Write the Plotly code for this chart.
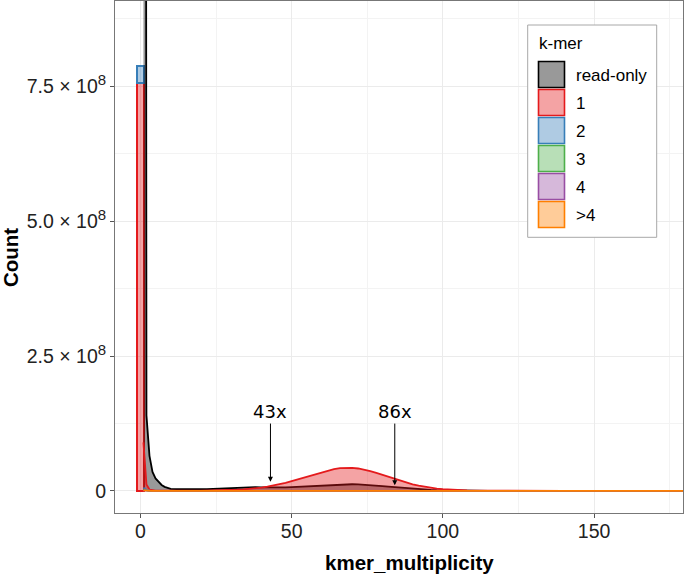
import plotly.graph_objects as go

# ---------------- data ----------------
mult = [1, 2, 3, 4, 5, 6, 7, 8, 9, 10,
        12, 14, 16, 18, 20, 22, 24, 26, 28, 30,
        32, 34, 36, 38, 40, 42, 44, 46, 48, 50,
        52, 54, 56, 58, 60, 62, 64, 66, 68, 70,
        72, 74, 76, 78, 80, 82, 84, 86, 88, 90,
        92, 94, 96, 98, 100, 102, 104, 106, 108, 110,
        115, 120, 130, 140, 160, 180]

read_only = [8.0e9, 1.4e8, 6.5e7, 3.5e7, 2.3e7, 1.6e7, 1.1e7, 7.5e6, 5.0e6, 3.8e6,
             3.3e6, 3.0e6, 2.9e6, 2.9e6, 3.0e6, 3.3e6, 3.8e6, 4.5e6, 5.3e6, 6.0e6,
             6.6e6, 7.0e6, 7.1e6, 6.9e6, 6.6e6, 6.3e6, 6.2e6, 6.3e6, 6.6e6, 7.1e6,
             7.7e6, 8.4e6, 9.1e6, 9.8e6, 1.05e7, 1.11e7, 1.17e7, 1.21e7, 1.23e7, 1.23e7,
             1.2e7, 1.15e7, 1.08e7, 9.9e6, 8.9e6, 7.9e6, 6.9e6, 5.9e6, 5.0e6, 4.1e6,
             3.3e6, 2.6e6, 2.0e6, 1.5e6, 1.1e6, 8e5, 6e5, 4.5e5, 3.3e5, 2.5e5,
             1.3e5, 7e4, 3e4, 1e4, 3e3, 1e3]

copy1 = [9.0e7, 1.2e7, 2.5e6, 1.0e6, 6e5, 4e5, 3e5, 2.5e5, 2.2e5, 2e5,
         2e5, 2.5e5, 3e5, 4e5, 5e5, 6e5, 8e5, 1.0e6, 1.3e6, 1.7e6,
         2.2e6, 2.8e6, 3.6e6, 4.6e6, 6.0e6, 7.8e6, 9.9e6, 1.23e7, 1.5e7, 1.8e7,
         2.12e7, 2.46e7, 2.8e7, 3.15e7, 3.5e7, 3.8e7, 4.05e7, 4.22e7, 4.3e7, 4.28e7,
         4.15e7, 3.95e7, 3.68e7, 3.35e7, 2.98e7, 2.6e7, 2.22e7, 1.86e7, 1.52e7, 1.22e7,
         9.6e6, 7.4e6, 5.6e6, 4.2e6, 3.1e6, 2.2e6, 1.6e6, 1.1e6, 8e5, 5.5e5,
         2.5e5, 1e5, 3e4, 1e4, 2e3, 1e3]

mult_low = [1, 2, 3, 4, 5, 8, 10, 20, 40, 60, 68, 80, 100, 120, 150, 180]
copy2 = [6e6, 1.5e6, 4e5, 2e5, 1e5, 6e4, 5e4, 4e4, 1e5, 5e5, 6e5, 4e5, 1e5, 3e4, 1e4, 5e3]
copy3 = [2e6, 5e5, 1e5, 5e4, 3e4, 2e4, 1e4, 1e4, 3e4, 1e5, 1.2e5, 8e4, 3e4, 1e4, 5e3, 1e3]
copy4 = [1e6, 3e5, 6e4, 3e4, 2e4, 1e4, 8e3, 8e3, 2e4, 6e4, 7e4, 5e4, 2e4, 8e3, 3e3, 1e3]
copy_gt4 = [1e6, 3e5, 8e4, 4e4, 3e4, 2e4, 1e4, 1e4, 3e4, 8e4, 9e4, 7e4, 3e4, 1e4, 4e3, 1e3]

# k-mers found only in the assembly (multiplicity 0)
bar_groups = ["1", "2"]
bar_counts = [7.56e8, 3.2e7]

legend_labels = ["read-only", "1", "2", "3", "4", ">4"]
line_colors = ["#000000", "#E41A1C", "#377EB8", "#4DAF4A", "#984EA3", "#FF7F00"]
fill_colors = ["rgba(0,0,0,0.4)", "rgba(228,26,28,0.4)", "rgba(55,126,184,0.4)",
               "rgba(77,175,74,0.4)", "rgba(152,78,163,0.4)", "rgba(255,127,0,0.4)"]

peak_labels = ["43x", "86x"]
peak_x = [43, 84.1]
arrow_tip_y = [1.67e7, 1.06e7]
label_y = 1.47e8

SUP = "<sup><span style='font-size:15px'>8</span></sup>"
y_tickvals = [0, 2.5e8, 5.0e8, 7.5e8]
y_ticktext = ["0", "2.5 × 10" + SUP, "5.0 × 10" + SUP, "7.5 × 10" + SUP]
y_minor = [1.25e8, 3.75e8, 6.25e8, 8.75e8]
x_tickvals = [0, 50, 100, 150]
x_minor = [25, 75, 125, 175]

# ---------------- figure ----------------
W, H = 685, 574
ML, MR, MT, MB = 115, 2, 1, 61
PW, PH = W - ML - MR, H - MT - MB


def px_x(p):
    return (p - ML) / PW


def px_y(p):
    return (H - MB - p) / PH


fig = go.Figure()

col_idx = {lab: i for i, lab in enumerate(legend_labels)}
for g, c in zip(bar_groups, bar_counts):
    i = col_idx[g]
    fig.add_trace(go.Bar(x=[0], y=[c], width=2.3, name=g, showlegend=False,
                         marker=dict(color=fill_colors[i],
                                     line=dict(color=line_colors[i], width=1.6))))

series = [(mult, read_only), (mult, copy1), (mult_low, copy2),
          (mult_low, copy3), (mult_low, copy4), (mult_low, copy_gt4)]
for i, (xs, ys) in enumerate(series):
    fig.add_trace(go.Scatter(x=xs, y=ys, mode="lines", fill="tozeroy",
                             fillcolor=fill_colors[i], name=legend_labels[i],
                             showlegend=False,
                             line=dict(color=line_colors[i], width=1.8)))

# peak labels with arrows
for lab, xv, ty in zip(peak_labels, peak_x, arrow_tip_y):
    fig.add_annotation(x=xv, y=ty, ax=xv, ay=label_y, axref="x", ayref="y",
                       xref="x", yref="y", text=lab, showarrow=True,
                       arrowhead=2, arrowsize=1, arrowwidth=1, arrowcolor="#000",
                       standoff=0, startstandoff=0,
                       font=dict(family="DejaVu Sans", size=18, color="#000"))

# manual legend (ggplot style)
fig.add_shape(type="rect", xref="paper", yref="paper",
              x0=px_x(527.7), x1=px_x(656.7), y0=px_y(237.3), y1=px_y(25),
              line=dict(color="#A8A8A8", width=1), fillcolor="white", layer="above")
fig.add_annotation(xref="paper", yref="paper", x=px_x(536.5), y=px_y(43.5),
                   xanchor="left", yanchor="middle", text="k-mer", showarrow=False,
                   font=dict(family="Liberation Sans", size=17, color="#000"))
for i, lab in enumerate(legend_labels):
    top = 61 + 28 * i
    fig.add_shape(type="rect", xref="paper", yref="paper",
                  x0=px_x(538.5), x1=px_x(564.5), y0=px_y(top + 26.5), y1=px_y(top + 0.5),
                  line=dict(color=line_colors[i], width=1.6), fillcolor=fill_colors[i],
                  layer="above")
    fig.add_annotation(xref="paper", yref="paper", x=px_x(573.5), y=px_y(top + 14),
                       xanchor="left", yanchor="middle", text=lab, showarrow=False,
                       font=dict(family="Liberation Sans", size=17, color="#000"))

# axis titles
title_font = dict(family="Liberation Sans", size=20.5, color="#000")
fig.add_annotation(xref="paper", yref="paper", x=px_x(409), y=px_y(562),
                   xanchor="center", yanchor="middle", showarrow=False,
                   text="<b>kmer_multiplicity</b>", font=title_font)
fig.add_annotation(xref="paper", yref="paper", x=px_x(10), y=px_y(258),
                   xanchor="center", yanchor="middle", showarrow=False, textangle=-90,
                   text="<b>Count</b>", font=title_font)

axis_font = dict(family="Liberation Sans", size=19.5, color="#222")

fig.update_layout(
    width=W, height=H, autosize=False,
    margin=dict(l=ML, r=MR, t=MT, b=MB, pad=0),
    paper_bgcolor="white", plot_bgcolor="white",
    barmode="stack", showlegend=False,
    xaxis=dict(range=[-8.4, 179.4], tickvals=x_tickvals, ticktext=[str(v) for v in x_tickvals],
               automargin=False, ticklabelstandoff=-3,
               showgrid=True, gridcolor="#EBEBEB", gridwidth=1.1,
               minor=dict(tickvals=x_minor, showgrid=True, gridcolor="#F3F3F3", gridwidth=0.6,
                          ticks=""),
               zeroline=False, showline=True, linecolor="#777", linewidth=1, mirror=True,
               ticks="outside", ticklen=4, tickcolor="#555", tickwidth=1,
               tickfont=axis_font),
    yaxis=dict(range=[-4.1e7, 9.08e8], tickvals=y_tickvals, ticktext=y_ticktext,
               automargin=False,
               showgrid=True, gridcolor="#EBEBEB", gridwidth=1.1,
               minor=dict(tickvals=y_minor, showgrid=True, gridcolor="#F3F3F3", gridwidth=0.6,
                          ticks=""),
               zeroline=False, showline=True, linecolor="#777", linewidth=1, mirror=True,
               ticks="outside", ticklen=4, tickcolor="#555", tickwidth=1,
               tickfont=axis_font),
)

fig.write_html("out.html", default_width="685px", default_height="574px",
               config={"responsive": False, "displayModeBar": False},
               post_script="document.body.style.margin='0';document.body.style.padding='0';")
